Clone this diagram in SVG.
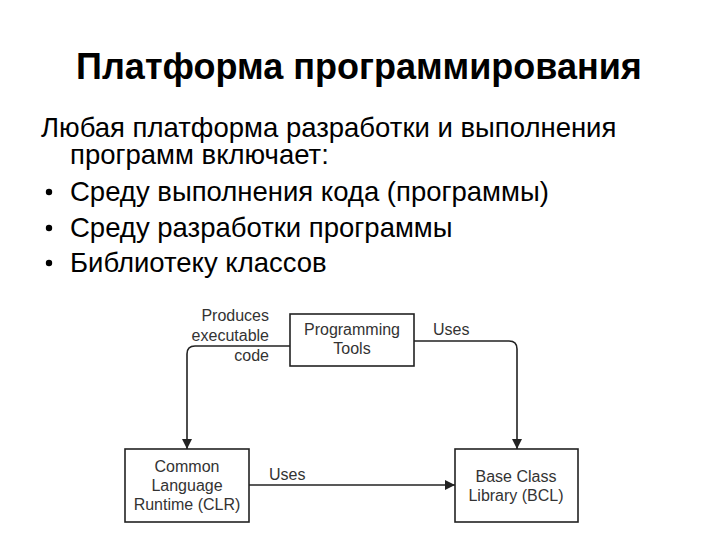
<svg xmlns="http://www.w3.org/2000/svg" width="720" height="540" viewBox="0 0 720 540">
<style>
.title{font-family:"Liberation Sans",Arial,sans-serif;font-weight:bold;font-size:36px;fill:#000}
.body{font-family:"Liberation Sans",Arial,sans-serif;font-size:27.5px;fill:#000}
.box{fill:#fff;stroke:#222;stroke-width:1.6}
.lbl{font-family:"Liberation Sans",Arial,sans-serif;font-size:16px;fill:#333}
.con{fill:none;stroke:#222;stroke-width:1.6}
</style>
<defs>
<marker id="arr" viewBox="0 0 10 10" refX="10" refY="5" markerWidth="10" markerHeight="10" markerUnits="userSpaceOnUse" orient="auto">
<path d="M0,0 L10,5 L0,10 z" fill="#222"/>
</marker>
</defs>
<rect width="720" height="540" fill="#fff"/>
<text class="title" x="359" y="79" text-anchor="middle">Платформа программирования</text>
<g id="text-body">
<text class="body" x="41" y="137">Любая платформа разработки и выполнения</text>
<text class="body" x="70" y="164">программ включает:</text>
<circle cx="49" cy="192" r="3.2"/>
<text class="body" x="70" y="201">Среду выполнения кода (программы)</text>
<circle cx="49" cy="228" r="3.2"/>
<text class="body" x="70" y="237">Среду разработки программы</text>
<circle cx="49" cy="263" r="3.2"/>
<text class="body" x="70" y="272">Библиотеку классов</text>
</g>
<g id="connectors">
<path class="con" d="M290,346 H195 Q187,346 187,354 V449" marker-end="url(#arr)"/>
<path class="con" d="M414,341 H509 Q517,341 517,349 V449" marker-end="url(#arr)"/>
<path class="con" d="M249,485 H455" marker-end="url(#arr)"/>
<text class="lbl" x="269" y="321" text-anchor="end">Produces</text>
<text class="lbl" x="269" y="341" text-anchor="end">executable</text>
<text class="lbl" x="269" y="361" text-anchor="end">code</text>
<text class="lbl" x="433" y="335">Uses</text>
<text class="lbl" x="269" y="480">Uses</text>
</g>
<g id="programming-tools">
<rect class="box" x="290" y="314" width="124" height="52"/>
<text class="lbl" x="352" y="335" text-anchor="middle">Programming</text>
<text class="lbl" x="352" y="354" text-anchor="middle">Tools</text>
</g>
<g id="clr">
<rect class="box" x="125" y="449" width="124" height="73"/>
<text class="lbl" x="187" y="472" text-anchor="middle">Common</text>
<text class="lbl" x="187" y="491" text-anchor="middle">Language</text>
<text class="lbl" x="187" y="510" text-anchor="middle">Runtime (CLR)</text>
</g>
<g id="bcl">
<rect class="box" x="455" y="449" width="123" height="73"/>
<text class="lbl" x="516" y="482" text-anchor="middle">Base Class</text>
<text class="lbl" x="516" y="501" text-anchor="middle">Library (BCL)</text>
</g>
</svg>
